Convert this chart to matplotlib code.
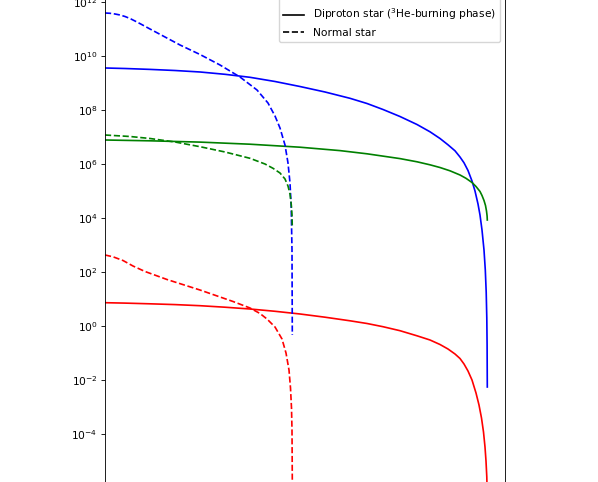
import matplotlib
matplotlib.use("Agg")
import numpy as np
import matplotlib.pyplot as plt
from matplotlib.lines import Line2D
from matplotlib.ticker import NullLocator, FixedLocator

# x: normalised radius; values stored as log10 of the quantity
# Diproton star (solid)
x_dip_P = [0, .05, .1125, .175, .2375, .3, .3625, .425, .4875, .55, .6125, .655, .695, .7375, .78,
           .8125, .8375, .8575, .875, .8875, .8975, .9075, .9175, .925, .9325, .9375, .9425, .9475,
           .95075, .953, .9545, .95525, .95575]
logP_dip = [9.567, 9.548, 9.515, 9.474, 9.419, 9.333, 9.222, 9.067, 8.881, 8.678, 8.444, 8.252, 8.030,
            7.770, 7.474, 7.204, 6.956, 6.722, 6.500, 6.270, 6.056, 5.770, 5.381, 5.011, 4.530, 4.122,
            3.567, 2.826, 2.085, 1.270, 0.307, -0.693, -2.248]

x_dip_T = [0, .1125, .2375, .3625, .4875, .5875, .655, .7375, .78, .8125, .8375, .8625, .8875, .9025,
           .9175, .9275, .9375, .9425, .9475, .95125, .95375, .95525, .95575]
logT_dip = [6.900, 6.870, 6.822, 6.744, 6.633, 6.507, 6.389, 6.211, 6.093, 5.981, 5.881, 5.759, 5.604,
            5.481, 5.326, 5.178, 4.993, 4.844, 4.659, 4.474, 4.270, 4.085, 3.937]

x_dip_rho = [0, .05, .1125, .175, .2375, .3, .3625, .425, .4875, .55, .6125, .655, .695, .7375, .78,
             .8125, .8375, .8575, .875, .8875, .8975, .9075, .9175, .9275, .935, .94125, .94625, .95,
             .9525, .9545, .9555, .95625]
logrho_dip = [0.874, 0.859, 0.833, 0.804, 0.763, 0.707, 0.641, 0.556, 0.456, 0.337, 0.204, 0.104,
              -0.015, -0.163, -0.352, -0.507, -0.674, -0.841, -1.026, -1.193, -1.396, -1.656, -1.989,
              -2.470, -2.915, -3.396, -3.915, -4.470, -4.989, -5.581, -6.248, -7.915]

# Normal star (dashed)
x_nor_P = [0, .0125, .025, .0375, .05, .0625, .075, .0875, .1125, .15, .1875, .2375, .2875, .3375,
           .38, .4075, .425, .4375, .45, .4575, .4625, .4655, .4675, .46825]
logP_nor = [11.604, 11.593, 11.567, 11.530, 11.474, 11.400, 11.307, 11.211, 11.011, 10.715, 10.419,
            10.067, 9.678, 9.233, 8.752, 8.270, 7.789, 7.344, 6.715, 6.048, 5.307, 4.419, 2.826, -0.322]

x_nor_T = [0, .0625, .1125, .175, .2375, .3, .3625, .4, .42, .4375, .45, .4575, .4625, .46575,
           .4675, .46825]
logT_nor = [7.085, 7.030, 6.956, 6.826, 6.652, 6.456, 6.222, 6.011, 5.852, 5.678, 5.456, 5.196, 4.900,
            4.493, 4.122, 3.641]

x_nor_rho = [0, .02, .045, .07, .1, .155, .2375, .32, .3625, .3875, .405, .425, .4425, .4525, .46,
             .46375, .46625, .4675, .46825, .4685]
logrho_nor = [2.641, 2.574, 2.437, 2.233, 2.030, 1.733, 1.344, 0.919, 0.678, 0.474, 0.270, -0.026,
              -0.470, -0.989, -1.619, -2.285, -3.026, -3.841, -5.693, -7.915]

labels_qty = ["Pressure (dyn cm$^{-2}$)", "Temperature (K)", "Density (g cm$^{-3}$)"]
colors = ["blue", "green", "red"]
labels_style = ["Diproton star ($^3$He-burning phase)", "Normal star"]

s = 0.77
plt.rcParams.update({
    "font.size": 10 * s,
    "lines.linewidth": 1.2,
    "axes.linewidth": 0.8 * s,
    "ytick.major.size": 3.5 * s,
    "ytick.major.width": 0.8 * s,
    "ytick.major.pad": 3.5 * s,
    "xtick.major.size": 3.5 * s,
    "xtick.major.width": 0.8 * s,
    "xtick.major.pad": 3.5 * s,
    "legend.borderaxespad": 0,
})

fig = plt.figure(figsize=(5.98, 4.82), dpi=100)
W, H = 598, 482
top_px, bot_px = -45, 540
ax = fig.add_axes([105 / W, (H - bot_px) / H, 400 / W, (bot_px - top_px) / H])

ax.plot(x_dip_P, 10.0 ** np.array(logP_dip), color=colors[0], ls="-")
ax.plot(x_dip_T, 10.0 ** np.array(logT_dip), color=colors[1], ls="-")
ax.plot(x_dip_rho, 10.0 ** np.array(logrho_dip), color=colors[2], ls="-")
ax.plot(x_nor_P, 10.0 ** np.array(logP_nor), color=colors[0], ls="--")
ax.plot(x_nor_T, 10.0 ** np.array(logT_nor), color=colors[1], ls="--")
ax.plot(x_nor_rho, 10.0 ** np.array(logrho_nor), color=colors[2], ls="--")

ax.set_yscale("log")
L_top = (326.3 - top_px) / 27.0
L_bot = (326.3 - bot_px) / 27.0
ax.set_ylim(10 ** L_bot, 10 ** L_top)
ax.set_xlim(0, 1.0)
ax.yaxis.set_major_locator(FixedLocator([10.0 ** k for k in range(-8, 16, 2)]))
ax.yaxis.set_minor_locator(NullLocator())

handles = [Line2D([], [], color=c) for c in colors]
handles += [Line2D([], [], color="black", ls="-"), Line2D([], [], color="black", ls="--")]
ax.legend(handles, labels_qty + labels_style, loc="lower right",
          bbox_to_anchor=(500 / W, 1 - 42 / H), bbox_transform=fig.transFigure)

fig.savefig("out.png", dpi=100)
